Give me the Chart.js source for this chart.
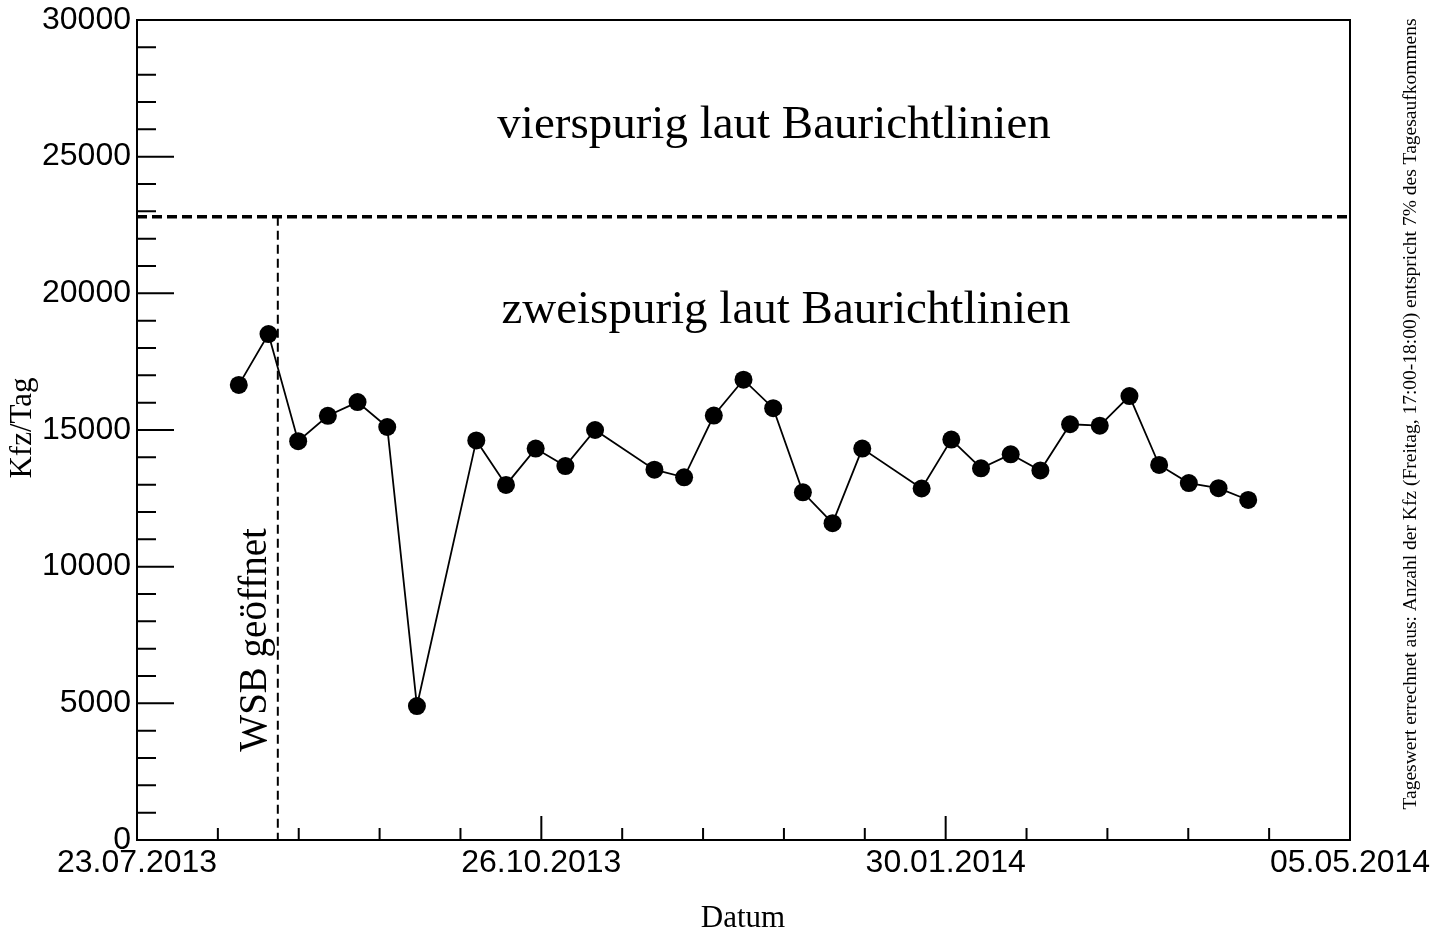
<!DOCTYPE html>
<html>
<head>
<meta charset="utf-8">
<script src="https://cdn.jsdelivr.net/npm/chart.js@4.4.1/dist/chart.umd.min.js"></script>
<style>
  html, body { margin: 0; padding: 0; background: #fff; }
  canvas { display: block; }
</style>
</head>
<body>
<canvas id="kfz" width="1430" height="933"></canvas>
<script>
// --- data: days since 23.07.2013 (fridays) and vehicles per day ---
const weekDays = [24, 31, 38, 45, 52, 59, 66, 80, 87, 94, 101, 108, 122, 129, 136, 143,
  150, 157, 164, 171, 185, 192, 199, 206, 213, 220, 227, 234, 241, 248, 255, 262];
const kfzPerDay = [16650, 18510, 14590, 15520, 16020, 15110, 4900, 14620, 12990, 14320, 13680, 15000,
  13550, 13270, 15530, 16840, 15800, 12720, 11590, 14320, 12860, 14650, 13600, 14110,
  13520, 15210, 15160, 16240, 13720, 13060, 12870, 12440];

// axis
const xTickDays = [0, 95.33, 190.67, 286];
const xTickLabels = ['23.07.2013', '26.10.2013', '30.01.2014', '05.05.2014'];
const yMajorTicks = [0, 5000, 10000, 15000, 20000, 25000, 30000];

// reference lines
const fourLaneLimit = 22800;
const wsbOpenDay = 33.2;

const canvas = document.getElementById('kfz');

// ROOT style frame, inward ticks, dashed lines and texts
const rootStyle = {
  id: 'rootStyle',
  beforeDatasetsDraw(chart) {
    const { ctx, chartArea: a, scales: { x, y } } = chart;
    ctx.save();
    ctx.strokeStyle = '#000';
    // four lane limit
    const yl = y.getPixelForValue(fourLaneLimit);
    ctx.lineWidth = 3.5;
    ctx.setLineDash([10, 5]);
    ctx.beginPath();
    ctx.moveTo(a.left, yl);
    ctx.lineTo(a.right, yl);
    ctx.stroke();
    // WSB opened
    const xw = x.getPixelForValue(wsbOpenDay);
    ctx.lineWidth = 2;
    ctx.setLineDash([9, 5]);
    ctx.beginPath();
    ctx.moveTo(xw, yl);
    ctx.lineTo(xw, a.bottom);
    ctx.stroke();
    ctx.restore();
  },
  afterDraw(chart) {
    const { ctx, chartArea: a, scales: { x, y } } = chart;
    ctx.save();
    ctx.strokeStyle = '#000';
    ctx.lineWidth = 2;
    ctx.setLineDash([]);
    ctx.strokeRect(a.left, a.top, a.right - a.left, a.bottom - a.top);

    // y ticks
    ctx.beginPath();
    for (let v = 0; v <= 30000; v += 1000) {
      const py = y.getPixelForValue(v);
      const len = v % 5000 === 0 ? 37 : 19;
      ctx.moveTo(a.left, py);
      ctx.lineTo(a.left + len, py);
    }
    // x ticks
    for (let i = 0; i <= 15; i++) {
      const px = x.getPixelForValue(i * 286 / 15);
      const len = i % 5 === 0 ? 24 : 12;
      ctx.moveTo(px, a.bottom);
      ctx.lineTo(px, a.bottom - len);
    }
    ctx.stroke();

    ctx.fillStyle = '#000';
    ctx.font = '47px "Liberation Serif", "Times New Roman", serif';
    ctx.textAlign = 'center';
    ctx.textBaseline = 'alphabetic';
    ctx.fillText('vierspurig laut Baurichtlinien', x.getPixelForValue(150.2), y.getPixelForValue(25680));
    ctx.fillText('zweispurig laut Baurichtlinien', x.getPixelForValue(153), y.getPixelForValue(18910));

    // rotated texts
    const rotText = (txt, px, py, font) => {
      ctx.save();
      ctx.translate(px, py);
      ctx.rotate(-Math.PI / 2);
      ctx.font = font;
      ctx.fillText(txt, 0, 0);
      ctx.restore();
    };
    rotText('WSB geöffnet', x.getPixelForValue(30.4), y.getPixelForValue(7320), '39px "Liberation Serif", serif');
    rotText('Kfz/Tag', 31, 428, '31px "Liberation Serif", serif');
    rotText('Tageswert errechnet aus: Anzahl der Kfz (Freitag, 17:00-18:00) entspricht 7% des Tagesaufkommens',
      1416, 414, '19.5px "Liberation Serif", serif');

    ctx.font = '31px "Liberation Serif", serif';
    ctx.fillText('Datum', 743, 927);
    ctx.restore();
  }
};

const chart = new Chart(canvas, {
  type: 'line',
  data: {
    datasets: [{
      label: 'Kfz/Tag',
      data: weekDays.map((d, i) => ({ x: d, y: kfzPerDay[i] })),
      borderColor: '#000',
      backgroundColor: '#000',
      borderWidth: 1.8,
      pointRadius: 9,
      pointBorderWidth: 0,
      pointBackgroundColor: '#000',
      tension: 0,
    }]
  },
  options: {
    responsive: false,
    animation: false,
    devicePixelRatio: 1,
    layout: { padding: { left: 0, right: 80, top: 20, bottom: 0 } },
    plugins: {
      legend: { display: false },
      title: { display: false },
      tooltip: { enabled: false },
    },
    scales: {
      x: {
        type: 'linear',
        min: 0,
        max: 286,
        border: { display: false },
        grid: { display: false, drawTicks: false },
        afterBuildTicks: (scale) => {
          scale.ticks = xTickDays.map(v => ({ value: v }));
        },
        afterFit: (scale) => {
          scale.height = 93;
          scale.paddingLeft = 0;
          scale.paddingRight = 0;
        },
        ticks: {
          autoSkip: false,
          maxRotation: 0,
          padding: 4,
          color: '#000',
          font: { family: '"Liberation Sans", Arial, sans-serif', size: 32 },
          callback: (value) => {
            const idx = xTickDays.indexOf(value);
            return idx >= 0 ? xTickLabels[idx] : '';
          },
        },
      },
      y: {
        min: 0,
        max: 30000,
        border: { display: false },
        grid: { display: false, drawTicks: false },
        afterBuildTicks: (scale) => {
          scale.ticks = yMajorTicks.map(v => ({ value: v }));
        },
        afterFit: (scale) => {
          scale.width = 137;
          scale.paddingTop = 0;
          scale.paddingBottom = 0;
        },
        ticks: {
          padding: 6,
          color: '#000',
          font: { family: '"Liberation Sans", Arial, sans-serif', size: 32 },
          callback: (value) => String(value),
        },
      },
    },
  },
  plugins: [rootStyle],
});
</script>
</body>
</html>
